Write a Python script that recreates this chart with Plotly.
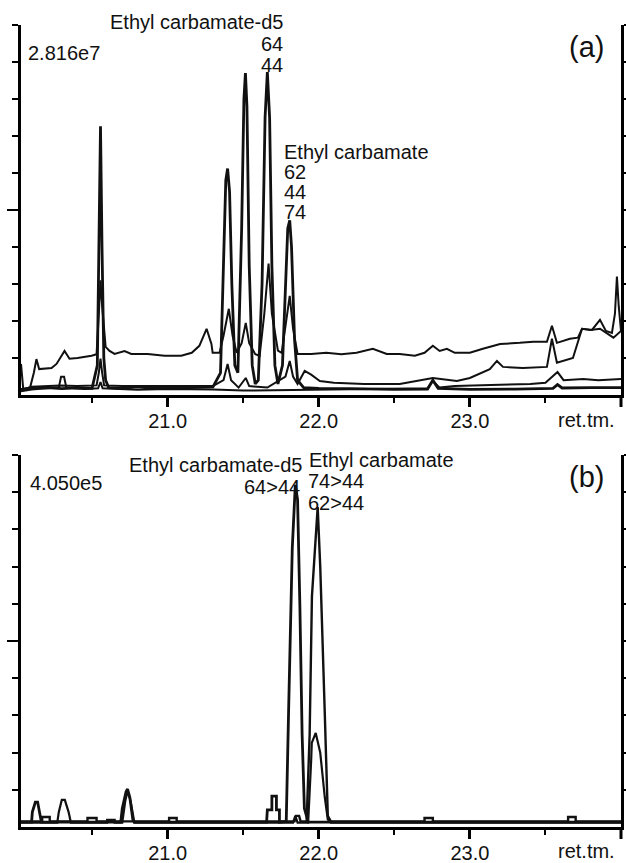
import plotly.graph_objects as go

# ---------------- data (x = retention time, min; y = % of full scale) ----------------
a_mz62 = [(20.03, 1.5), (20.10, 1.8), (20.20, 2.0), (20.30, 1.7), (20.40, 1.9), (20.50, 1.8),
          (20.535, 8), (20.547, 40), (20.556, 72.6), (20.566, 40), (20.578, 10), (20.59, 4.0),
          (20.61, 2.0), (20.70, 1.8), (20.80, 2.2), (20.90, 1.8), (21.00, 2.0), (21.10, 1.9),
          (21.20, 2.0), (21.30, 2.2), (21.35, 6), (21.37, 35), (21.385, 58), (21.397, 61.2),
          (21.41, 55), (21.425, 30), (21.445, 8), (21.465, 6), (21.49, 45), (21.505, 80),
          (21.515, 87), (21.525, 78), (21.54, 35), (21.56, 8), (21.58, 3), (21.60, 4),
          (21.625, 30), (21.645, 75), (21.66, 87.3), (21.675, 75), (21.69, 35), (21.71, 8),
          (21.73, 3), (21.76, 8), (21.78, 30), (21.795, 45), (21.808, 47.2), (21.82, 40),
          (21.84, 15), (21.86, 4), (21.90, 2), (22.00, 1.8), (22.20, 1.7), (22.50, 1.5),
          (22.72, 1.6), (22.755, 4.0), (22.79, 1.8), (23.00, 1.5), (23.30, 1.6), (23.55, 1.8),
          (23.58, 2.8), (23.61, 1.9), (23.80, 2.0), (24.00, 2.0)]

a_mz44 = [(20.03, 1.5), (20.09, 2.0), (20.115, 6.0), (20.132, 9.7), (20.15, 7.0), (20.232, 7.3),
          (20.265, 8.4), (20.318, 11.9), (20.351, 9.8), (20.404, 10.0), (20.497, 10.6),
          (20.53, 11.0), (20.545, 22), (20.556, 31), (20.567, 24), (20.59, 13), (20.616, 11.9),
          (20.649, 11.1), (20.715, 11.9), (20.76, 11.1), (20.868, 11.1), (20.98, 10.6),
          (21.09, 10.6), (21.16, 11.4), (21.21, 13.3), (21.258, 17.9), (21.29, 13.8),
          (21.298, 11.4), (21.344, 11.4), (21.37, 16), (21.405, 23.3), (21.43, 16),
          (21.457, 11.4), (21.49, 14), (21.517, 19.5), (21.54, 14), (21.58, 11.0),
          (21.609, 10.6), (21.64, 22), (21.668, 35.5), (21.69, 22), (21.73, 12), (21.755, 11.4),
          (21.785, 20), (21.808, 26.8), (21.83, 18), (21.86, 11.1), (21.95, 11.1), (22.05, 11.4),
          (22.15, 11.0), (22.25, 11.4), (22.358, 12.5), (22.45, 11.1), (22.536, 11.1),
          (22.636, 10.6), (22.70, 11.4), (22.755, 13.3), (22.80, 11.9), (22.848, 12.5),
          (22.90, 11.4), (23.00, 11.4), (23.086, 12.5), (23.20, 13.8), (23.33, 14.1),
          (23.42, 14.4), (23.51, 14.4), (23.543, 18.7), (23.576, 14.1), (23.662, 15.2),
          (23.715, 15.5), (23.742, 17.9), (23.808, 17.6), (23.861, 20.3), (23.90, 17.3),
          (23.94, 16.8), (23.96, 22), (23.973, 32), (23.985, 24), (24.00, 17.3)]

a_mz74 = [(20.03, 8.4), (20.045, 1.5), (20.10, 2.2), (20.20, 2.4), (20.29, 2.6), (20.40, 2.4),
          (20.53, 2.6), (20.545, 6), (20.556, 9.8), (20.567, 6), (20.58, 2.6), (20.70, 2.4),
          (20.90, 2.4), (21.10, 2.5), (21.30, 2.4), (21.37, 4), (21.397, 8.4), (21.42, 4),
          (21.47, 2.0), (21.517, 4.6), (21.54, 2.4), (21.66, 2.0), (21.78, 5), (21.808, 9.2),
          (21.83, 5), (21.86, 3), (21.907, 6.5), (21.95, 5.5), (22.007, 3.8), (22.10, 3.3),
          (22.30, 3.0), (22.536, 3.0), (22.755, 4.6), (22.914, 3.8), (23.00, 4.6), (23.132, 7.0),
          (23.179, 9.2), (23.219, 7.6), (23.35, 7.3), (23.51, 7.6), (23.543, 15.2),
          (23.576, 8.7), (23.682, 10.0), (23.742, 17.9), (23.80, 17.6), (23.861, 17.9),
          (23.95, 15.5), (24.00, 17.3)]

a_mz64 = [(20.03, 1.0), (20.10, 1.5), (20.20, 1.8), (20.28, 2.0), (20.295, 4.9), (20.315, 4.9),
          (20.33, 2.0), (20.45, 1.6), (20.54, 1.8), (20.556, 3.5), (20.57, 1.8), (20.80, 1.4),
          (21.00, 1.6), (21.30, 1.5), (21.50, 1.2), (21.70, 1.3), (21.90, 1.5), (22.20, 1.6),
          (22.50, 1.8), (22.72, 1.8), (22.755, 3.8), (22.80, 2.0), (22.90, 2.4), (23.00, 2.6),
          (23.20, 2.8), (23.40, 3.0), (23.50, 3.3), (23.58, 6.2), (23.62, 4.0), (23.75, 4.3),
          (23.85, 4.0), (24.00, 4.3)]

b_64_44 = [(20.03, 1.3), (20.10, 1.3), (20.105, 4.0), (20.125, 6.7), (20.14, 6.7), (20.155, 4.0),
           (20.165, 1.3), (20.69, 1.3), (20.70, 5.0), (20.725, 9.5), (20.735, 10.2), (20.75, 8.0),
           (20.77, 2.0), (20.78, 1.3), (21.655, 1.3), (21.66, 4.6), (21.69, 4.6), (21.69, 8.3),
           (21.72, 8.3), (21.72, 4.6), (21.74, 4.6), (21.74, 1.3), (21.785, 1.5), (21.80, 30),
           (21.825, 75), (21.845, 92), (21.86, 88), (21.875, 60), (21.89, 25), (21.905, 5),
           (21.93, 1.3), (22.50, 1.3), (23.00, 1.3), (24.00, 1.3)]

b_62_44 = [(20.03, 1.5), (20.17, 1.5), (20.17, 2.7), (20.22, 2.7), (20.22, 1.5), (20.47, 1.5),
           (20.47, 2.4), (20.53, 2.4), (20.53, 1.5), (21.01, 1.5), (21.01, 2.4), (21.06, 2.4),
           (21.06, 1.5), (21.84, 1.5), (21.85, 3.0), (21.87, 3.0), (21.88, 1.5), (21.92, 1.5),
           (21.94, 25), (21.955, 62), (21.993, 86), (22.01, 70), (22.04, 30.6), (22.06, 3.0),
           (22.08, 1.5), (22.70, 1.5), (22.70, 2.4), (22.755, 2.4), (22.755, 1.5), (23.65, 1.5),
           (23.65, 2.7), (23.70, 2.7), (23.70, 1.5), (24.00, 1.5)]

b_74_44 = [(20.03, 1.2), (20.27, 1.2), (20.28, 4.0), (20.30, 7.3), (20.32, 7.3), (20.345, 4.0),
           (20.36, 1.2), (20.60, 1.2), (20.60, 1.9), (20.65, 1.9), (20.65, 1.2), (20.70, 1.2),
           (20.72, 7.0), (20.735, 9.6), (20.755, 7.0), (20.78, 1.2), (21.83, 1.2), (21.845, 3.0),
           (21.86, 1.2), (21.93, 1.2), (21.95, 18), (21.954, 22.6), (21.98, 25.3), (22.01, 20),
           (22.04, 8.0), (22.06, 2.0), (22.08, 1.2), (24.00, 1.2)]

x_range = [20.03, 24.0]
x_tick_vals = [21.0, 22.0, 23.0]
x_tick_text = ["21.0", "22.0", "23.0"]
x_minor_vals = [20.5, 21.5, 22.5, 23.5]
y_major_vals = [50]
y_minor_vals = [10, 20, 30, 40, 60, 70, 80, 90, 100]

# ---------------- figure ----------------
FONT = "Liberation Sans, Arial, sans-serif"
fig = go.Figure()

def add(pts, xa, ya, width, name):
    xs = [p[0] for p in pts]
    ys = [p[1] for p in pts]
    fig.add_trace(go.Scatter(x=xs, y=ys, mode="lines", name=name, xaxis=xa, yaxis=ya,
                             line=dict(color="#111111", width=width), hoverinfo="x+y"))

add(a_mz64, "x", "y", 2.0, "m/z 64")
add(a_mz74, "x", "y", 2.0, "m/z 74")
add(a_mz44, "x", "y", 2.0, "m/z 44")
add(a_mz62, "x", "y", 2.8, "m/z 62")
add(b_74_44, "x2", "y2", 2.2, "74>44")
add(b_62_44, "x2", "y2", 2.4, "62>44")
add(b_64_44, "x2", "y2", 2.8, "64>44")

xcommon = dict(range=x_range, automargin=False, showgrid=False, zeroline=False, showline=True,
               linecolor="black", linewidth=3, ticks="outside", ticklen=9, tickwidth=2.5,
               tickcolor="black", tickvals=x_tick_vals, ticktext=x_tick_text,
               ticklabelstandoff=-3,
               tickfont=dict(family=FONT, size=20, color="#111111"),
               minor=dict(tickvals=x_minor_vals, ticks="outside", ticklen=5, tickwidth=2,
                          tickcolor="black"))
ycommon = dict(range=[0, 100], automargin=False, showgrid=False, zeroline=False, showline=True,
               linecolor="black", linewidth=3, mirror="ticks", ticks="outside", ticklen=11,
               tickwidth=2, tickcolor="black", tickvals=y_major_vals, showticklabels=False,
               minor=dict(tickvals=y_minor_vals, ticks="outside", ticklen=6, tickwidth=2,
                          tickcolor="black"))

dom_a = [(827 - 395) / 802, 1.0]
dom_b = [0.0, (827 - 455) / 802]

fig.update_layout(
    width=626, height=863,
    margin=dict(l=21, r=5, t=25, b=36),
    paper_bgcolor="white", plot_bgcolor="white",
    showlegend=False,
    font=dict(family=FONT, size=20, color="#111111"),
    xaxis=dict(anchor="y", **xcommon),
    yaxis=dict(anchor="x", domain=dom_a, **ycommon),
    xaxis2=dict(anchor="y2", **xcommon),
    yaxis2=dict(anchor="x2", domain=dom_b, **ycommon),
)

def px_x(px):
    return (px - 21) / 600

def px_y(py):
    return (827 - py) / 802

def note(text, px, py, xanchor, size=20):
    fig.add_annotation(text=text, x=px_x(px), y=px_y(py), xref="paper", yref="paper",
                       xanchor=xanchor, yanchor="middle", showarrow=False,
                       font=dict(family=FONT, size=size, color="#111111"))

# panel (a)
note("2.816e7", 26, 53, "left")
note("Ethyl carbamate-d5", 285, 22, "right")
note("64", 285, 44, "right")
note("44", 285, 65, "right")
note("Ethyl carbamate", 282, 152, "left")
note("62", 282, 172, "left")
note("44", 282, 192, "left")
note("74", 282, 212, "left")
note("(a)", 586, 47, "center", size=29)
note("ret.tm.", 586, 420, "center")
# panel (b)
note("4.050e5", 28, 483, "left")
note("Ethyl carbamate-d5", 304, 465, "right")
note("64>44", 302, 487, "right")
note("Ethyl carbamate", 307, 460, "left")
note("74>44", 306, 481, "left")
note("62>44", 306, 503, "left")
note("(b)", 586, 477, "center", size=29)
note("ret.tm.", 586, 851, "center")

# right axis lines extend slightly below the bottom axis
for xr, yr in (("x domain", "y domain"), ("x2 domain", "y2 domain")):
    fig.add_shape(type="line", xref=xr, yref=yr, x0=1, x1=1, ysizemode="pixel",
                  yanchor=0, y0=0, y1=-12, line=dict(color="black", width=3))

# remove the browser's default 8px page margin so the 626x863 figure fits the window exactly
fig.write_html("out.html", config={"displayModeBar": False},
               post_script="document.body.style.margin='0';")
